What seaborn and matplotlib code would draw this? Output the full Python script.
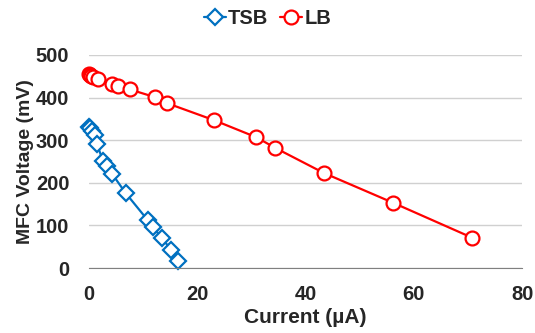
import pandas as pd
import numpy as np
import matplotlib.pyplot as plt
import seaborn as sns

# Polarization data
tsb_current = [0.0, 0.2, 0.5, 1.1, 1.5, 2.6, 3.3, 4.3, 6.8, 10.9, 11.8, 13.5, 15.2, 16.5]
tsb_voltage = [330, 328, 322, 313, 291, 252, 240, 221, 176, 112, 97, 70, 43, 16]

lb_current = [0.0, 0.2, 0.4, 0.7, 1.7, 4.3, 5.4, 7.6, 12.2, 14.4, 23.1, 30.9, 34.4, 43.4, 56.2, 70.8]
lb_voltage = [455, 453, 451, 448, 444, 432, 427, 419, 401, 387, 347, 307, 282, 223, 153, 71]

series_names = ["TSB", "LB"]
colors = {"TSB": "#0070C0", "LB": "#FF0000"}
markers = {"TSB": "D", "LB": "o"}

df = pd.concat([
    pd.DataFrame({"Current": tsb_current, "Voltage": tsb_voltage, "Series": "TSB"}),
    pd.DataFrame({"Current": lb_current, "Voltage": lb_voltage, "Series": "LB"}),
], ignore_index=True)

sns.set_style("white")
plt.rcParams["font.family"] = ["Liberation Sans", "DejaVu Sans"]
plt.rcParams["font.weight"] = "bold"

fig, ax = plt.subplots(figsize=(5.35, 3.33), dpi=100)
fig.subplots_adjust(left=0.166, right=0.976, top=0.835, bottom=0.195)

sns.lineplot(data=df, x="Current", y="Voltage", hue="Series", style="Series",
             hue_order=series_names, style_order=series_names,
             palette=colors, markers=markers, dashes=False, sort=False,
             estimator=None, linewidth=1.6, legend=False, ax=ax)

for line, name in zip(ax.lines, series_names):
    line.set_markerfacecolor("white")
    line.set_markeredgecolor(colors[name])
    line.set_markeredgewidth(1.6)
    line.set_markersize(10 if name == "LB" else 8)
    line.set_clip_on(False)
    line.set_label(name)

ax.set_xlim(0, 80)
ax.set_ylim(0, 500)
ax.set_xticks(np.arange(0, 81, 20))
ax.set_yticks(np.arange(0, 501, 100))
ax.yaxis.grid(True, color="#D0D0D0", linewidth=1)
ax.set_axisbelow(True)

for side in ["left", "right", "top"]:
    ax.spines[side].set_visible(False)
ax.spines["bottom"].set_color("#808080")
ax.tick_params(axis="both", length=0, labelsize=14.5)
ax.tick_params(axis="x", pad=12)
ax.tick_params(axis="y", pad=14)
for lbl in ax.get_xticklabels() + ax.get_yticklabels():
    lbl.set_fontweight("bold")

ax.set_xlabel("Current (µA)", fontsize=15, fontweight="bold", labelpad=3)
ax.set_ylabel("MFC Voltage (mV)", fontsize=14, fontweight="bold", labelpad=1)

fig.legend(handles=ax.lines[:2], loc="center", bbox_to_anchor=(0.5, 0.945),
           ncol=2, frameon=False, handlelength=1.1, handletextpad=0.1,
           columnspacing=0.6, prop={"size": 14.5, "weight": "bold"})

fig.savefig("out.png", dpi=100)
